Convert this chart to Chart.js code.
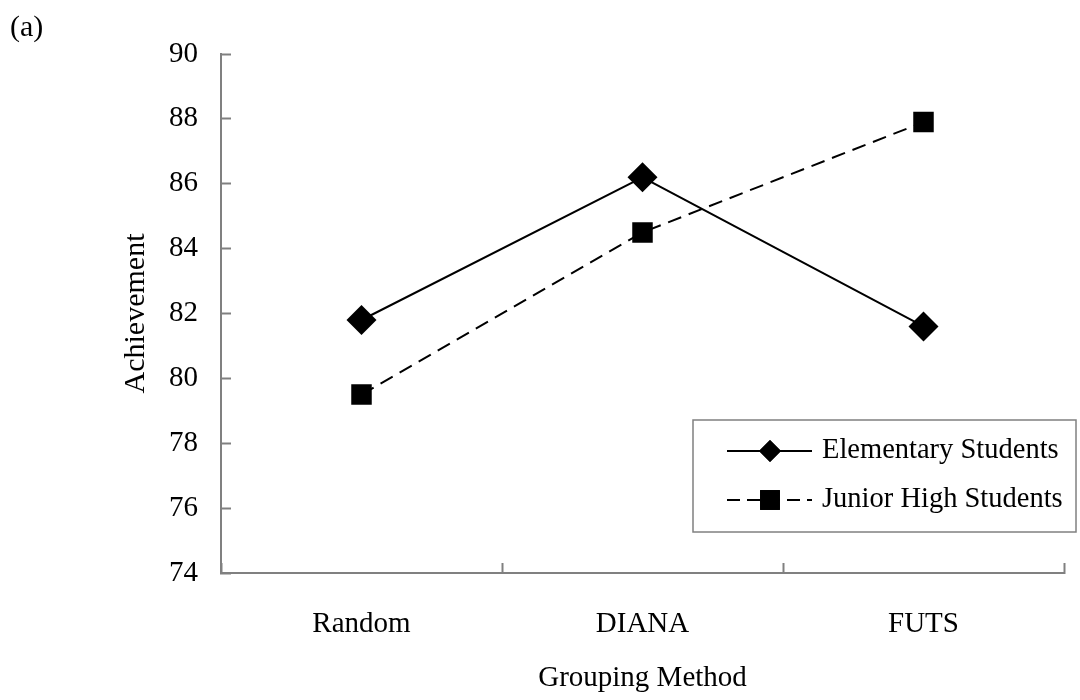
<!DOCTYPE html>
<html>
<head>
<meta charset="utf-8">
<script src="https://cdn.jsdelivr.net/npm/chart.js@4.4.1/dist/chart.umd.min.js"></script>
<style>
  html, body { margin: 0; padding: 0; background: #ffffff; }
  #wrap { width: 1080px; height: 700px; position: relative; }
</style>
</head>
<body>
<div id="wrap"><canvas id="c" width="1080" height="700"></canvas></div>
<script>
const categories = ["Random", "DIANA", "FUTS"];
const elementaryValues = [81.8, 86.2, 81.6];
const juniorHighValues = [79.5, 84.5, 87.9];
const seriesNames = ["Elementary Students", "Junior High Students"];
const yTicks = [74, 76, 78, 80, 82, 84, 86, 88, 90];
const panelLabel = "(a)";
const xTitle = "Grouping Method";
const yTitle = "Achievement";

const FONT = "'Liberation Serif', 'Times New Roman', serif";
const AXIS_GRAY = "#808080";

const extrasPlugin = {
  id: 'extras',
  afterDraw(chart) {
    const ctx = chart.ctx;
    ctx.save();
    // panel label
    ctx.fillStyle = '#000';
    ctx.font = "30px " + FONT;
    ctx.textBaseline = 'alphabetic';
    ctx.textAlign = 'left';
    ctx.fillText(panelLabel, 10, 36);

    // legend box
    const bx = 693, by = 420, bw = 383, bh = 112;
    ctx.fillStyle = '#fff';
    ctx.fillRect(bx, by, bw, bh);
    ctx.strokeStyle = AXIS_GRAY;
    ctx.lineWidth = 1.5;
    ctx.strokeRect(bx, by, bw, bh);

    const rows = [
      { y: 451, ds: chart.data.datasets[0], r: 11, dash: [] },
      { y: 500, ds: chart.data.datasets[1], r: 14, dash: [13, 7] }
    ];
    rows.forEach(row => {
      ctx.strokeStyle = '#000';
      ctx.lineWidth = 2;
      ctx.setLineDash(row.dash);
      ctx.beginPath();
      ctx.moveTo(727, row.y);
      ctx.lineTo(812, row.y);
      ctx.stroke();
      ctx.setLineDash([]);
      ctx.fillStyle = '#000';
      Chart.helpers.drawPoint(ctx, {
        pointStyle: row.ds.pointStyle, radius: row.r, rotation: 0, borderWidth: 0
      }, 770, row.y);
      ctx.fill();
      ctx.fillStyle = '#000';
      ctx.font = "28.5px " + FONT;
      ctx.textBaseline = 'middle';
      ctx.textAlign = 'left';
      ctx.fillText(row.ds.label, 822, row.y);
    });
    ctx.restore();
  }
};

new Chart(document.getElementById('c'), {
  type: 'line',
  data: {
    labels: categories,
    datasets: [
      {
        label: seriesNames[0],
        data: elementaryValues,
        borderColor: '#000',
        backgroundColor: '#000',
        borderWidth: 2,
        pointStyle: 'rectRot',
        pointRadius: 15,
        pointHoverRadius: 15,
        pointBorderWidth: 0,
        tension: 0
      },
      {
        label: seriesNames[1],
        data: juniorHighValues,
        borderColor: '#000',
        backgroundColor: '#000',
        borderWidth: 2,
        borderDash: [14, 8],
        pointStyle: 'rect',
        pointRadius: 14.5,
        pointHoverRadius: 14.5,
        pointBorderWidth: 0,
        tension: 0
      }
    ]
  },
  options: {
    responsive: false,
    animation: false,
    devicePixelRatio: 1,
    layout: { padding: { top: 54, right: 16, left: 0, bottom: 0 } },
    plugins: {
      legend: { display: false },
      tooltip: { enabled: false },
      title: { display: false }
    },
    scales: {
      x: {
        type: 'category',
        offset: true,
        grid: {
          display: true,
          offset: true,
          drawOnChartArea: false,
          drawTicks: true,
          tickLength: -10,
          color: AXIS_GRAY,
          tickColor: AXIS_GRAY,
          tickWidth: 2
        },
        border: { display: true, color: AXIS_GRAY, width: 2 },
        ticks: {
          color: '#000',
          padding: 44,
          maxRotation: 0,
          autoSkip: false,
          font: { family: FONT, size: 29 }
        },
        title: {
          display: true,
          text: xTitle,
          color: '#000',
          font: { family: FONT, size: 29 },
          padding: { top: 0, bottom: 4 }
        },
        afterFit(scale) { scale.height = 127; }
      },
      y: {
        type: 'linear',
        min: yTicks[0],
        max: yTicks[yTicks.length - 1],
        afterBuildTicks(scale) { scale.ticks = yTicks.map(v => ({ value: v })); },
        grid: {
          display: true,
          drawOnChartArea: false,
          drawTicks: true,
          tickLength: -10,
          color: AXIS_GRAY,
          tickColor: AXIS_GRAY,
          tickWidth: 2
        },
        border: { display: true, color: AXIS_GRAY, width: 2 },
        ticks: {
          color: '#000',
          padding: 33,
          font: { family: FONT, size: 29 }
        },
        title: {
          display: true,
          text: yTitle,
          color: '#000',
          font: { family: FONT, size: 30 },
          padding: { top: 118, bottom: 0 }
        },
        afterFit(scale) { scale.width = 221; }
      }
    }
  },
  plugins: [extrasPlugin]
});
</script>
</body>
</html>
